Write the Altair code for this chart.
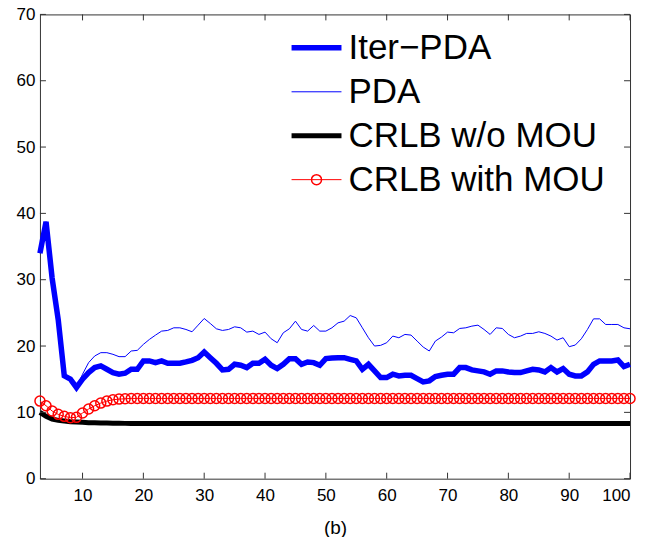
import altair as alt
import pandas as pd

# ---------------- data ----------------
x_vals = list(range(3, 101))

iter_pda = [
    34.0, 38.75, 30.25, 24.0, 15.5, 15.0, 13.75,                      # 3-9
    15.0, 16.0, 16.75, 17.0, 16.5, 16.0, 15.75, 15.9, 16.5, 16.5,      # 10-19
    17.75, 17.75, 17.5, 17.75, 17.4, 17.4, 17.4, 17.6, 17.85, 18.25,   # 20-29
    19.1, 18.25, 17.4, 16.4, 16.5, 17.25, 17.1, 16.75, 17.4, 17.4,     # 30-39
    18.0, 17.1, 16.6, 17.25, 18.1, 18.1, 17.25, 17.6, 17.5, 17.1,      # 40-49
    18.1, 18.2, 18.25, 18.25, 18.0, 17.75, 16.5, 17.25, 16.25, 15.25,  # 50-59
    15.25, 15.75, 15.5, 15.6, 15.6, 15.1, 14.6, 14.75, 15.4, 15.6,     # 60-69
    15.75, 15.75, 16.75, 16.75, 16.4, 16.25, 16.1, 15.75, 16.25, 16.25,  # 70-79
    16.1, 16.0, 16.0, 16.25, 16.5, 16.4, 16.1, 16.75, 16.1, 16.6,      # 80-89
    15.75, 15.5, 15.5, 16.1, 17.25, 17.75, 17.75, 17.75, 17.9, 16.9,   # 90-99
    17.25,                                                             # 100
]

pda = [
    34.0, 38.75, 30.25, 24.0, 15.5, 15.0, 13.75,                       # 3-9
    15.75, 17.5, 18.5, 19.0, 19.0, 18.75, 18.4, 18.4, 19.25, 19.35,    # 10-19
    20.25, 21.0, 21.65, 22.25, 22.35, 22.75, 22.75, 22.5, 22.15, 23.15,  # 20-29
    24.15, 23.4, 22.6, 22.35, 22.5, 22.9, 22.75, 22.1, 22.25, 21.75,   # 30-39
    22.1, 21.1, 20.5, 22.0, 22.6, 23.75, 22.5, 22.25, 23.1, 22.25,     # 40-49
    22.25, 22.75, 23.5, 23.75, 24.6, 24.25, 22.75, 21.25, 20.0, 20.1,  # 50-59
    20.5, 21.5, 21.25, 21.75, 21.65, 20.75, 19.85, 19.25, 20.75, 21.35,  # 60-69
    22.1, 22.0, 22.65, 22.75, 23.0, 23.15, 22.5, 21.75, 22.75, 22.65,  # 70-79
    21.75, 21.25, 21.5, 21.9, 21.9, 22.15, 21.9, 21.5, 20.9, 21.25,    # 80-89
    19.9, 20.15, 21.1, 22.5, 24.1, 24.1, 23.25, 23.25, 23.25, 22.75,   # 90-99
    22.6,                                                              # 100
]

crlb_wo = [
    10.0, 9.4, 9.0, 8.8, 8.7, 8.6, 8.55,                               # 3-9
    8.5, 8.45, 8.42, 8.4, 8.38, 8.36, 8.35, 8.34, 8.33, 8.33,          # 10-19
    8.33, 8.33, 8.33, 8.33, 8.33, 8.33, 8.33, 8.33, 8.33, 8.33,        # 20-29
    8.33, 8.33, 8.33, 8.33, 8.33, 8.33, 8.33, 8.33, 8.33, 8.33,        # 30-39
    8.33, 8.33, 8.33, 8.33, 8.33, 8.33, 8.33, 8.33, 8.33, 8.33,        # 40-49
    8.33, 8.33, 8.33, 8.33, 8.33, 8.33, 8.33, 8.33, 8.33, 8.33,        # 50-59
    8.33, 8.33, 8.33, 8.33, 8.33, 8.33, 8.33, 8.33, 8.33, 8.33,        # 60-69
    8.33, 8.33, 8.33, 8.33, 8.33, 8.33, 8.33, 8.33, 8.33, 8.33,        # 70-79
    8.33, 8.33, 8.33, 8.33, 8.33, 8.33, 8.33, 8.33, 8.33, 8.33,        # 80-89
    8.33, 8.33, 8.33, 8.33, 8.33, 8.33, 8.33, 8.33, 8.33, 8.33,        # 90-99
    8.33,                                                              # 100
]

crlb_with = [
    11.7, 11.0, 10.2, 9.7, 9.4, 9.2, 9.25,                             # 3-9
    9.9, 10.5, 11.0, 11.4, 11.7, 11.9, 12.0, 12.05, 12.1, 12.1,        # 10-19
    12.1, 12.1, 12.1, 12.1, 12.1, 12.1, 12.1, 12.1, 12.1, 12.1,        # 20-29
    12.1, 12.1, 12.1, 12.1, 12.1, 12.1, 12.1, 12.1, 12.1, 12.1,        # 30-39
    12.1, 12.1, 12.1, 12.1, 12.1, 12.1, 12.1, 12.1, 12.1, 12.1,        # 40-49
    12.1, 12.1, 12.1, 12.1, 12.1, 12.1, 12.1, 12.1, 12.1, 12.1,        # 50-59
    12.1, 12.1, 12.1, 12.1, 12.1, 12.1, 12.1, 12.1, 12.1, 12.1,        # 60-69
    12.1, 12.1, 12.1, 12.1, 12.1, 12.1, 12.1, 12.1, 12.1, 12.1,        # 70-79
    12.1, 12.1, 12.1, 12.1, 12.1, 12.1, 12.1, 12.1, 12.1, 12.1,        # 80-89
    12.1, 12.1, 12.1, 12.1, 12.1, 12.1, 12.1, 12.1, 12.1, 12.1,        # 90-99
    12.1,                                                              # 100
]

series_names = ["Iter\u2212PDA", "PDA", "CRLB w/o MOU", "CRLB with MOU"]
series_values = [iter_pda, pda, crlb_wo, crlb_with]

x_ticks = [10, 20, 30, 40, 50, 60, 70, 80, 90, 100]
y_ticks = [0, 10, 20, 30, 40, 50, 60, 70]

# ---------------- styling ----------------
colors = ["#0000ff", "#0000ff", "#000000", "#ff0000"]
widths = [5.5, 1.0, 5.0, 1.0]
FONT = "Liberation Sans"
W, H = 591, 465
TICK = 6

rows = []
for name, vals in zip(series_names, series_values):
    for xv, yv in zip(x_vals, vals):
        rows.append({"x": xv, "value": yv, "series": name})
df = pd.DataFrame(rows)
df_red = df[df["series"] == "CRLB with MOU"].assign(marker="CRLB with MOU")

xscale = alt.Scale(domain=[3, 100], nice=False, zero=False)
yscale = alt.Scale(domain=[0, 70], nice=False, zero=True)

x_axis = alt.Axis(values=x_ticks, title="(b)", grid=False, domain=False, ticks=False,
                  labelFont=FONT, labelFontSize=17, labelColor="black", labelPadding=9,
                  titleFont=FONT, titleFontSize=19, titleFontWeight="normal",
                  titleColor="black", titlePadding=15)
y_axis = alt.Axis(values=y_ticks, title=None, grid=False, domain=False, ticks=False,
                  labelFont=FONT, labelFontSize=17, labelColor="black", labelPadding=5)

leg = alt.Legend(title=None, orient="none", legendX=249, legendY=16,
                 symbolType="stroke", symbolSize=2500,
                 labelFont=FONT, labelFontSize=35, labelColor="black", labelLimit=600,
                 clipHeight=35, rowPadding=8, labelOffset=4, padding=0)

lines = alt.Chart(df).mark_line().encode(
    x=alt.X("x:Q", scale=xscale, axis=x_axis),
    y=alt.Y("value:Q", scale=yscale, axis=y_axis),
    color=alt.Color("series:N", scale=alt.Scale(domain=series_names, range=colors), legend=leg),
    strokeWidth=alt.StrokeWidth("series:N",
                                scale=alt.Scale(type="ordinal", domain=series_names, range=widths),
                                legend=leg),
    order=alt.Order("x:Q"),
)

leg2 = alt.Legend(title=None, orient="none", legendX=271, legendY=148,
                  symbolType="circle", symbolSize=100, symbolStrokeWidth=1.5,
                  symbolStrokeColor="#ff0000", symbolFillColor="transparent",
                  labelExpr="''", labelFontSize=10,
                  clipHeight=35, padding=0)

points = alt.Chart(df_red).mark_point(filled=False, color="#ff0000", size=100,
                                      strokeWidth=1.5, opacity=1).encode(
    x=alt.X("x:Q", scale=xscale),
    y=alt.Y("value:Q", scale=yscale),
    shape=alt.Shape("marker:N", scale=alt.Scale(domain=["CRLB with MOU"], range=["circle"]), legend=leg2),
)

xt = pd.DataFrame({"x": x_ticks})
yt = pd.DataFrame({"value": y_ticks})
tick_color = "#333333"
bottom_ticks = alt.Chart(xt).mark_rule(color=tick_color, strokeWidth=1).encode(
    x=alt.X("x:Q", scale=xscale), y=alt.value(H), y2=alt.value(H - TICK))
top_ticks = alt.Chart(xt).mark_rule(color=tick_color, strokeWidth=1).encode(
    x=alt.X("x:Q", scale=xscale), y=alt.value(0), y2=alt.value(TICK))
left_ticks = alt.Chart(yt).mark_rule(color=tick_color, strokeWidth=1).encode(
    y=alt.Y("value:Q", scale=yscale), x=alt.value(0), x2=alt.value(TICK))
right_ticks = alt.Chart(yt).mark_rule(color=tick_color, strokeWidth=1).encode(
    y=alt.Y("value:Q", scale=yscale), x=alt.value(W), x2=alt.value(W - TICK))

chart = alt.layer(lines, points, bottom_ticks, top_ticks, left_ticks, right_ticks).properties(
    width=W, height=H,
    autosize=alt.AutoSizeParams(type="none"),
    padding={"left": 32, "top": 6, "right": 20, "bottom": 70},
    background="white",
).configure_view(stroke="#333333", strokeWidth=1)

chart.save("out.html", embed_options={"renderer": "svg", "actions": False})
